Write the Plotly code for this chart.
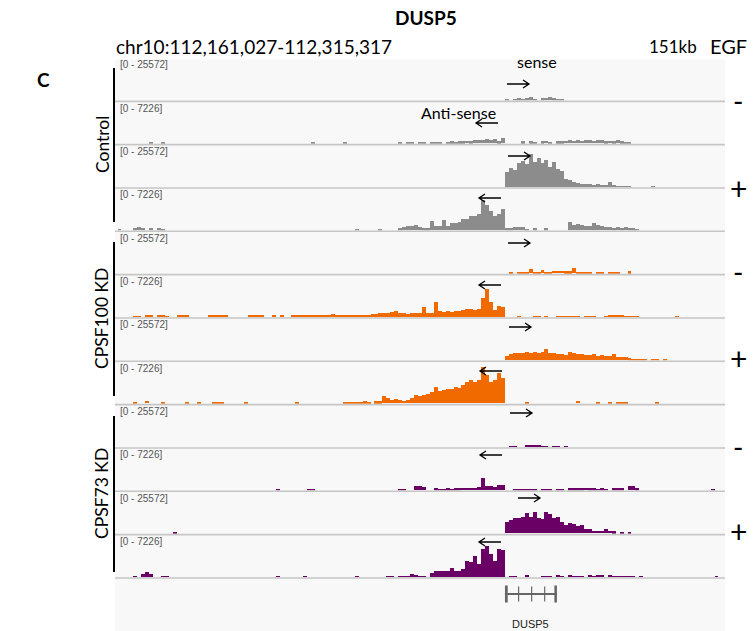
import plotly.graph_objects as go

W, H = 756, 631

# ---------------- region / scales ----------------
REGION_START = 112161027
REGION_END = 112315317
TSS = 112259660          # DUSP5 transcription start (bin origin)
BIN = 1000               # bin size in bp
SENSE_MAX = 25572
ANTI_MAX = 7226

# ---------------- track data (bin offsets from TSS in kb, signal values) ----------------
# Control, EGF -
ctrl_m_sense_bins = list(range(0, 15))
ctrl_m_sense_vals = [890, 0, 890, 1180, 590, 1180, 1770, 890, 0, 1180, 1480, 1770, 1180, 590, 300]

ctrl_m_anti_bins = [-90, -87, -49, -41] + list(range(-27, 0)) + list(range(4, 32))
ctrl_m_anti_vals = [250, 250, 170, 170,
                    170, 0, 250, 170, 0, 250, 170, 0, 250, 170, 250, 0, 250, 330, 250, 330, 330, 420,
                    330, 500, 500, 580, 670, 500, 750, 330, 920,
                    330, 0, 330, 250, 0, 330, 420, 250, 0, 330, 330, 420, 500, 420, 500, 420, 580,
                    500, 420, 500, 580, 330, 420, 330, 580, 330, 250, 170]

# Control, EGF +
ctrl_p_sense_bins = list(range(0, 38))
ctrl_p_sense_vals = [9400, 11800, 10600, 14800, 15900, 14200, 20100, 15300, 17700, 14800, 16500, 12400,
                     15300, 11200, 10000, 5300, 4700, 3000, 2400, 1800, 1800, 1800, 1200, 1800, 1200,
                     1200, 3000, 1200, 900, 600, 900, 600, 0, 0, 0, 0, 0, 600]

ctrl_p_anti_bins = [-98, -94, -93, -92, -90, -88, -87, -38, -32] + list(range(-27, 0)) + list(range(0, 34))
ctrl_p_anti_vals = [170, 330, 500, 330, 330, 330, 250, 250, 250,
                    330, 500, 670, 670, 840, 500, 330, 330, 1670, 670, 670, 1840, 670, 1170, 1170,
                    1500, 2000, 2000, 2510, 2510, 2840, 5180, 4340, 3340, 2510, 2840, 3670,
                    330, 330, 500, 500, 500, 170, 0, 330, 0, 0, 330, 0, 0, 0, 0, 0, 1500, 840, 1000,
                    840, 670, 670, 1170, 840, 670, 500, 500, 330, 500, 330, 500, 330, 330, 170]

# CPSF100 KD, EGF -
c100_m_sense_bins = list(range(1, 32))
c100_m_sense_vals = [590, 0, 890, 890, 890, 2360, 890, 890, 1770, 890, 890, 1480, 1480, 1480, 1180, 1180,
                     3250, 890, 890, 890, 890, 0, 890, 890, 0, 890, 890, 890, 0, 0, 1180]

c100_m_anti_bins = list(range(-94, 0)) + [3, 7, 8, 10, 13, 14, 15, 16, 17, 18, 20, 21, 22, 25, 26, 27,
                                          28, 29, 30, 31, 32, 33, 43]
c100_m_anti_vals = [250, 250, 0, 330, 330, 0, 330, 330, 250, 0,
                    0, 330, 330, 330, 0, 0, 0, 0, 0, 330,
                    330, 330, 330, 330, 0, 0, 0, 0, 0, 330,
                    330, 330, 330, 0, 0, 330, 0, 330, 0, 0,
                    330, 330, 330, 330, 330, 330, 330, 330, 330, 330,
                    580, 330, 330, 330, 330, 420, 330, 420, 330, 420,
                    500, 500, 670, 670, 670, 840, 1000, 670, 670, 500,
                    670, 670, 670, 1840, 670, 670, 2670, 1000, 840, 1000,
                    840, 1000, 1000, 1170, 1340, 1340, 1170, 1500, 3340, 4840,
                    2670, 1170, 2000, 1840,
                    170, 250, 250, 250, 250, 250, 250, 250, 250, 250, 250, 250, 250, 250, 330, 330,
                    420, 330, 250, 250, 250, 250, 250]

# CPSF100 KD, EGF +
c100_p_sense_bins = list(range(0, 42))
c100_p_sense_vals = [2360, 3540, 4130, 4130, 4720, 5310, 4720, 5310, 4130, 5310, 7080, 4130, 4720, 3540,
                     3540, 2950, 5310, 4130, 3540, 3540, 2950, 2950, 3540, 2360, 2950, 2360, 2360, 3540,
                     1770, 1770, 1770, 1180, 890, 890, 590, 590, 0, 590, 590, 0, 590, 0]

c100_p_anti_bins = ([-94, -91, -87, -81, -78, -74, -73, -72, -66, -53] + list(range(-41, 0))
                    + [5, 18, 23, 26, 28, 29, 30, 38])
c100_p_anti_vals = [250, 420, 250, 250, 250, 250, 250, 170, 250, 250,
                    250, 250, 250, 250, 250, 330, 250, 0, 330, 330, 1170, 840, 500, 670, 500, 420, 500,
                    840, 1340, 1170, 1500, 1670, 2000, 2840, 2170, 2340, 2510, 2510, 2840, 2670, 3170,
                    3670, 4010, 3670, 4010, 6180, 4840, 3670, 4010, 5180, 4340,
                    250, 420, 250, 250, 250, 250, 250, 250]

# CPSF73 KD, EGF -
c73_m_sense_bins = [1, 2, 5, 6, 7, 8, 9, 10, 12, 13, 15]
c73_m_sense_vals = [890, 890, 1180, 1180, 1180, 1180, 890, 890, 890, 890, 890]

c73_m_anti_bins = [-58, -50, -49] + list(range(-27, 0)) + list(range(2, 34)) + [52]
c73_m_anti_vals = [250, 250, 250,
                   250, 250, 0, 0, 670, 670, 500, 0, 0, 330, 250, 250, 330, 250, 330, 330, 420, 420,
                   420, 420, 500, 2170, 670, 670, 500, 840, 840,
                   250, 250, 250, 250, 250, 170, 0, 250, 250, 250, 0, 250, 250, 0, 330, 330, 330, 330,
                   420, 330, 330, 250, 330, 250, 0, 330, 330, 330, 0, 670, 670, 330,
                   250]

# CPSF73 KD, EGF +
c73_p_sense_bins = [-84] + list(range(0, 32))
c73_p_sense_vals = [890,
                    7080, 8260, 9440, 9440, 10030, 12390, 10030, 12980, 9440, 8850, 12980, 11800, 9440,
                    10030, 7080, 5310, 6490, 5900, 4130, 5310, 2360, 2360, 1480, 1480, 1480, 2360, 1480,
                    1180, 0, 590, 0, 890]

c73_p_anti_bins = ([-94, -92, -91, -90, -87, -86, -58, -51, -38, -30, -29] + list(range(-27, 0))
                   + list(range(1, 35)) + [53])
c73_p_anti_vals = [250, 500, 840, 500, 250, 250, 250, 250, 250, 250, 250,
                   220, 220, 250, 500, 330, 280, 280, 0, 670, 1000, 1000, 1000, 1000, 1670, 1000, 1000,
                   1500, 2840, 2670, 3670, 2340, 4840, 5340, 4010, 2840, 4840, 4680,
                   170, 170, 0, 0, 330, 0, 0, 0, 170, 170, 170, 0, 330, 170, 0, 420, 170, 170, 170, 0,
                   420, 170, 330, 330, 0, 420, 250, 250, 250, 250, 250, 250, 0, 170,
                   250]

# gene model (bp offsets from TSS)
GENE_NAME = "DUSP5"
gene_len = 13150
exon_starts = [0, 3300, 6600, 9900, 12500]
exon_ends = [700, 3600, 6900, 10200, 13150]

GREY = "#8c8c8c"
ORANGE = "#f06a00"
PURPLE = "#6a0066"

tracks = [
    (ctrl_m_sense_bins, ctrl_m_sense_vals, SENSE_MAX, GREY),
    (ctrl_m_anti_bins, ctrl_m_anti_vals, ANTI_MAX, GREY),
    (ctrl_p_sense_bins, ctrl_p_sense_vals, SENSE_MAX, GREY),
    (ctrl_p_anti_bins, ctrl_p_anti_vals, ANTI_MAX, GREY),
    (c100_m_sense_bins, c100_m_sense_vals, SENSE_MAX, ORANGE),
    (c100_m_anti_bins, c100_m_anti_vals, ANTI_MAX, ORANGE),
    (c100_p_sense_bins, c100_p_sense_vals, SENSE_MAX, ORANGE),
    (c100_p_anti_bins, c100_p_anti_vals, ANTI_MAX, ORANGE),
    (c73_m_sense_bins, c73_m_sense_vals, SENSE_MAX, PURPLE),
    (c73_m_anti_bins, c73_m_anti_vals, ANTI_MAX, PURPLE),
    (c73_p_sense_bins, c73_p_sense_vals, SENSE_MAX, PURPLE),
    (c73_p_anti_bins, c73_p_anti_vals, ANTI_MAX, PURPLE),
]

# ---------------- geometry (pixels) ----------------
PX_L, PX_R = 115, 725
TRACK_TOP0 = 58.0
TRACK_H = 43.33


def fx(p):
    return p / W


def fy(p):
    return 1 - p / H


fig = go.Figure()
layout = dict(
    width=W, height=H, margin=dict(l=0, r=0, t=0, b=0),
    paper_bgcolor="white", plot_bgcolor="rgba(0,0,0,0)",
    showlegend=False, bargap=0, barmode="overlay",
    xaxis=dict(domain=[fx(PX_L), fx(PX_R)], range=[REGION_START, REGION_END],
               visible=False, fixedrange=True, anchor="y"),
)
shapes = []
annotations = []

# panel background
shapes.append(dict(type="rect", xref="paper", yref="paper", x0=fx(PX_L), x1=fx(PX_R),
                   y0=0, y1=fy(59.5), fillcolor="#f8f8f8", line=dict(width=0), layer="below"))

for i, (bins, vals, vmax, col) in enumerate(tracks):
    top = TRACK_TOP0 + TRACK_H * i
    base = top + TRACK_H
    ax = "y" if i == 0 else f"y{i + 1}"
    key = "yaxis" if i == 0 else f"yaxis{i + 1}"
    layout[key] = dict(domain=[fy(base - 1.0), fy(top)], range=[0, vmax], visible=False,
                       fixedrange=True, anchor="x")
    xs = [TSS + (b + 0.5) * BIN for b in bins]
    fig.add_trace(go.Bar(x=xs, y=vals, width=BIN, marker=dict(color=col, line=dict(width=0)),
                         xaxis="x", yaxis=ax, hoverinfo="skip"))
    shapes.append(dict(type="line", xref="paper", yref="paper", x0=fx(PX_L), x1=fx(PX_R),
                       y0=fy(base), y1=fy(base), line=dict(color="#c6c6c6", width=1.6)))
    annotations.append(dict(text=f"[0 - {vmax}]", x=fx(118), y=fy(top + 7), xref="paper", yref="paper",
                            xanchor="left", yanchor="middle", showarrow=False,
                            font=dict(family="Liberation Sans", size=10, color="#555555")))

# strand arrows (direction, centre x, centre y in px), drawn as thin open-headed arrows
arrows = [(1, 518, 84), (-1, 487, 123), (1, 519, 156), (-1, 490, 198),
          (1, 519, 243), (-1, 490, 285), (1, 520, 327), (-1, 491, 371),
          (1, 521, 413), (-1, 491, 455), (1, 529, 498), (-1, 490, 542)]
ALEN, HL, HW = 11, 6, 4
for d, cx, cy in arrows:
    tip = cx + d * ALEN
    tail = cx - d * ALEN
    hx = tip - d * HL
    path = (f"M {fx(tail)},{fy(cy)} L {fx(tip)},{fy(cy)} "
            f"M {fx(hx)},{fy(cy - HW)} L {fx(tip)},{fy(cy)} L {fx(hx)},{fy(cy + HW)}")
    shapes.append(dict(type="path", xref="paper", yref="paper", path=path,
                       line=dict(color="black", width=1.3)))

# EGF +/- marks
for t, y, sz in [("-", 101, 28), ("+", 188, 30), ("-", 272, 28), ("+", 358, 30), ("-", 447, 28),
                 ("+", 531, 30)]:
    annotations.append(dict(text=t, x=fx(738), y=fy(y), xref="paper", yref="paper", showarrow=False,
                            xanchor="center", yanchor="middle",
                            font=dict(family="Lato", size=sz, color="black")))

# group brackets and labels
for name, y0, y1 in [("Control", 68, 222), ("CPSF100 KD", 242, 396), ("CPSF73 KD", 416, 572)]:
    shapes.append(dict(type="line", xref="paper", yref="paper", x0=fx(114), x1=fx(114),
                       y0=fy(y0), y1=fy(y1), line=dict(color="black", width=2)))
    annotations.append(dict(text=name, x=fx(102), y=fy((y0 + y1) / 2), xref="paper", yref="paper",
                            showarrow=False, textangle=-90, xanchor="center", yanchor="middle",
                            font=dict(family="Lato", size=17.5, color="black")))

# header texts
hdr = dict(xref="paper", yref="paper", showarrow=False, yanchor="middle")
annotations += [
    dict(text="<b>DUSP5</b>", x=fx(426), y=fy(18), xanchor="center",
         font=dict(family="Lato", size=19, color="black"), **hdr),
    dict(text="chr10:112,161,027-112,315,317", x=fx(114), y=fy(46), xanchor="left",
         font=dict(family="Lato", size=19, color="black"), **hdr),
    dict(text="151kb", x=fx(699), y=fy(46), xanchor="right",
         font=dict(family="Lato", size=17, color="black"), **hdr),
    dict(text="EGF", x=fx(708), y=fy(46), xanchor="left",
         font=dict(family="Lato", size=20, color="black"), **hdr),
    dict(text="<b>C</b>", x=fx(43), y=fy(80), xanchor="center",
         font=dict(family="Lato", size=19, color="black"), **hdr),
    dict(text="sense", x=fx(537), y=fy(62), xanchor="center",
         font=dict(family="Lato", size=16, color="black"), **hdr),
    dict(text="Anti-sense", x=fx(458), y=fy(112), xanchor="center",
         font=dict(family="Lato", size=16, color="black"), **hdr),
]

# gene model
GENE_Y = 594
shapes.append(dict(type="line", xref="x", yref="paper", x0=TSS, x1=TSS + gene_len,
                   y0=fy(GENE_Y), y1=fy(GENE_Y), line=dict(color="#666666", width=2)))
for k, (s, e) in enumerate(zip(exon_starts, exon_ends)):
    half = 8.5 if k in (0, len(exon_starts) - 1) else 7.5
    shapes.append(dict(type="rect", xref="x", yref="paper", x0=TSS + s, x1=TSS + e,
                       y0=fy(GENE_Y + half), y1=fy(GENE_Y - half),
                       fillcolor="#666666", line=dict(width=0)))
annotations.append(dict(text=GENE_NAME, x=TSS + gene_len / 2, y=fy(624), xref="x", yref="paper",
                        showarrow=False, xanchor="center", yanchor="middle",
                        font=dict(family="Liberation Sans", size=11, color="#222222")))

layout["shapes"] = shapes
layout["annotations"] = annotations
fig.update_layout(**layout)
fig.write_html("out.html")
